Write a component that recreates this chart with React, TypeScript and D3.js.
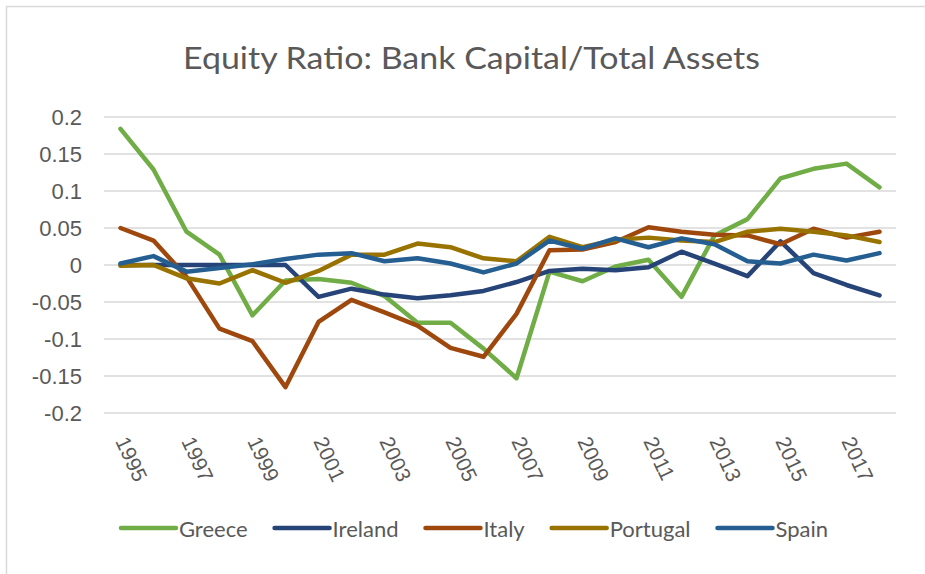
import { useEffect, useRef } from "react"
import * as d3 from "d3"

const years = [
  1995, 1996, 1997, 1998, 1999, 2000, 2001, 2002, 2003, 2004, 2005, 2006,
  2007, 2008, 2009, 2010, 2011, 2012, 2013, 2014, 2015, 2016, 2017, 2018,
]

const greece = [
  0.184, 0.129, 0.045, 0.014, -0.068, -0.021, -0.019, -0.024, -0.042, -0.078, -0.078, -0.113,
  -0.153, -0.009, -0.022, -0.002, 0.007, -0.043, 0.04, 0.062, 0.117, 0.13, 0.137, 0.105,
]
const ireland = [
  0.0, 0.0, 0.0, 0.0, 0.0, 0.0, -0.043, -0.032, -0.04, -0.045, -0.041, -0.035,
  -0.023, -0.008, -0.005, -0.007, -0.003, 0.018, 0.002, -0.015, 0.032, -0.011, -0.027, -0.041,
]
const italy = [
  0.05, 0.033, -0.016, -0.086, -0.103, -0.165, -0.077, -0.047, -0.064, -0.082, -0.112, -0.124,
  -0.066, 0.02, 0.021, 0.031, 0.051, 0.045, 0.041, 0.04, 0.028, 0.049, 0.037, 0.045,
]
const portugal = [
  -0.001, 0.0, -0.018, -0.025, -0.007, -0.024, -0.008, 0.014, 0.014, 0.029, 0.024, 0.009,
  0.005, 0.038, 0.024, 0.034, 0.037, 0.033, 0.031, 0.045, 0.049, 0.045, 0.04, 0.031,
]
const spain = [
  0.002, 0.012, -0.009, -0.004, 0.001, 0.008, 0.014, 0.016, 0.005, 0.009, 0.002, -0.01,
  0.002, 0.033, 0.022, 0.036, 0.024, 0.036, 0.028, 0.005, 0.002, 0.014, 0.006, 0.016,
]

const seriesNames = ["Greece", "Ireland", "Italy", "Portugal", "Spain"]
const seriesColors = ["#70AD47", "#264478", "#9E480E", "#997300", "#255E91"]
const seriesValues = [greece, ireland, italy, portugal, spain]

const yTicks = [0.2, 0.15, 0.1, 0.05, 0, -0.05, -0.1, -0.15, -0.2]
const xTickYears = [1995, 1997, 1999, 2001, 2003, 2005, 2007, 2009, 2011, 2013, 2015, 2017]

const title = "Equity Ratio: Bank Capital/Total Assets"

export default function App() {
  const svgRef = useRef<SVGSVGElement>(null)

  useEffect(() => {
    if (!svgRef.current) return
    const svg = d3.select(svgRef.current)
    svg.selectAll("*").remove()

    const width = 925
    const height = 574
    const plot = { left: 104, right: 896, top: 117, bottom: 413 }
    const textColor = "#595959"
    const gridColor = "#D9D9D9"

    // chart frame (runs off the right and bottom edges)
    svg
      .append("rect")
      .attr("x", 6.5)
      .attr("y", 6.5)
      .attr("width", width + 20)
      .attr("height", height + 20)
      .attr("fill", "#fff")
      .attr("stroke", gridColor)
      .attr("stroke-width", 1.5)

    const x = d3
      .scalePoint<number>()
      .domain(years)
      .range([plot.left, plot.right])
      .padding(0.5)

    const y = d3.scaleLinear().domain([-0.2, 0.2]).range([plot.bottom, plot.top])

    // title
    svg
      .append("text")
      .attr("x", 471.5)
      .attr("y", 68.5)
      .attr("text-anchor", "middle")
      .attr("font-family", "Lato, 'Open Sans', sans-serif")
      .attr("font-size", 31)
      .attr("textLength", 577)
      .attr("lengthAdjust", "spacingAndGlyphs")
      .attr("fill", textColor)
      .text(title)

    // gridlines
    svg
      .append("g")
      .selectAll("line")
      .data(yTicks)
      .enter()
      .append("line")
      .attr("x1", plot.left)
      .attr("x2", plot.right)
      .attr("y1", (d) => y(d))
      .attr("y2", (d) => y(d))
      .attr("stroke", gridColor)
      .attr("stroke-width", 1.5)

    // y labels
    svg
      .append("g")
      .selectAll("text")
      .data(yTicks)
      .enter()
      .append("text")
      .attr("x", 82)
      .attr("y", (d) => y(d))
      .attr("dy", "0.36em")
      .attr("text-anchor", "end")
      .attr("font-family", "'Liberation Sans', Arial, sans-serif")
      .attr("font-size", 22)
      .attr("fill", textColor)
      .text((d) => String(+d.toFixed(2)))

    // x labels, rotated
    svg
      .append("g")
      .selectAll("text")
      .data(xTickYears)
      .enter()
      .append("text")
      .attr("transform", (d) => `translate(${(x(d) ?? 0) - 5.5},441) rotate(65)`)
      .attr("font-family", "'Liberation Sans', Arial, sans-serif")
      .attr("font-size", 21)
      .attr("fill", textColor)
      .text((d) => String(d))

    // lines
    const line = d3
      .line<number>()
      .x((_, i) => x(years[i]) ?? 0)
      .y((d) => y(d))

    svg
      .append("g")
      .selectAll("path")
      .data(seriesValues)
      .enter()
      .append("path")
      .attr("fill", "none")
      .attr("stroke", (_, i) => seriesColors[i])
      .attr("stroke-width", 4.5)
      .attr("stroke-linejoin", "round")
      .attr("stroke-linecap", "round")
      .attr("d", (d) => line(d))

    // legend
    const legend = svg.append("g")
    const legendY = 528
    const swatch = 55
    const gap = 27
    const items = seriesNames.map((name, i) => {
      const g = legend.append("g")
      g.append("line")
        .attr("x1", 0)
        .attr("x2", swatch)
        .attr("y1", legendY)
        .attr("y2", legendY)
        .attr("stroke", seriesColors[i])
        .attr("stroke-width", 4.5)
        .attr("stroke-linecap", "round")
      const t = g
        .append("text")
        .attr("x", swatch + 3)
        .attr("y", 537)
        .attr("font-family", "Lato, 'Open Sans', sans-serif")
        .attr("font-size", 22)
        .attr("fill", textColor)
        .text(name)
      const w = (t.node() as SVGTextElement).getComputedTextLength()
      return { g, w: swatch + 3 + w }
    })
    const total = d3.sum(items, (d) => d.w) + gap * (items.length - 1)
    let cx = 474.5 - total / 2
    items.forEach((it) => {
      it.g.attr("transform", `translate(${cx},0)`)
      cx += it.w + gap
    })
  }, [])

  return (
    <svg
      ref={svgRef}
      width={925}
      height={574}
      style={{ position: "absolute", left: 0, top: 0, background: "#fff" }}
    />
  )
}
